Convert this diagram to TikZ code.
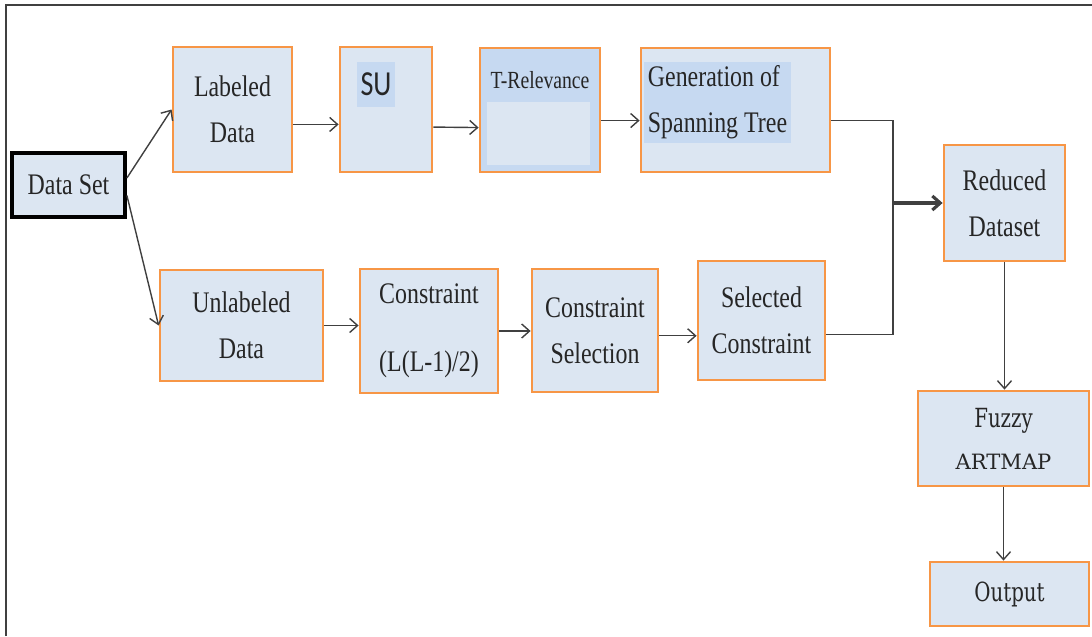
\documentclass[tikz,border=0pt]{standalone}
\usepackage{fontspec}
\setmainfont{Liberation Serif}[FakeStretch=0.8]
\newfontfamily\sufont{Carlito}[FakeStretch=0.8]
\newfontfamily\slabfont{DejaVu Serif}[FakeStretch=0.75]
\newfontfamily\slabwide{DejaVu Serif}
\usetikzlibrary{arrows.meta,positioning}
\definecolor{boxfill}{HTML}{DCE6F2}
\definecolor{boxline}{HTML}{F79646}
\definecolor{hilite}{HTML}{C6D9F1}
\definecolor{wire}{HTML}{404040}

\begin{document}
\begin{tikzpicture}[x=0.02cm, y=-0.02cm,
      blk/.style={rectangle, draw=boxline, fill=boxfill, line width=1.6pt,
                  align=center, text=black!85, inner sep=2pt,
                  font=\fontsize{17}{26}\selectfont},
      hl/.style={fill=hilite, inner sep=2pt, text=black!85},
      edge/.style={-{Straight Barb[length=4.5pt,width=8pt]}, wire, line width=0.8pt},
      link/.style={wire, line width=0.8pt},
      frame/.style={black!75, line width=1.2pt}
    ]
      \useasboundingbox (0,0) rectangle (1092,636);
      \draw[frame] (6,636) -- (6,5) -- (1092,5);

      % Input
      \node[blk, draw=black, line width=2.2pt, minimum width=2.26cm, minimum height=1.28cm] (data) at (68.5,185) {Data Set};

      % Labeled branch
      \node[blk, minimum width=2.38cm, minimum height=2.5cm] (lab) at (232.5,109.5) {Labeled\\Data};
      \node[blk, minimum width=1.84cm, minimum height=2.5cm] (su) at (386,109.5) {};
      \node[hl, font=\sufont\fontsize{20}{22}\selectfont, minimum width=0.76cm, minimum height=0.9cm, inner sep=0pt] (su-t) at (376,84.5) {SU};
      \node[blk, fill=hilite, minimum width=2.4cm, minimum height=2.48cm] (trel) at (540,110) {};
      \node[fill=boxfill, minimum width=2.06cm, minimum height=1.26cm, inner sep=0pt] (trel-in) at (538.5,133.5) {};
      \node[text=black!85, font=\fontsize{14}{16}\selectfont] (trel-t) at (540,80) {T-Relevance};
      \node[blk, minimum width=3.78cm, minimum height=2.48cm] (gen) at (735.5,110) {};
      \node[hl, align=left, font=\fontsize{17}{26}\selectfont, minimum width=2.9cm, minimum height=1.58cm] (gen-t) at (717.5,102.5) {Generation of\\Spanning Tree};

      % Unlabeled branch
      \node[blk, minimum width=3.26cm, minimum height=2.22cm] (unl) at (241.5,325.5) {Unlabeled\\Data};
      \node[blk, minimum width=2.76cm, minimum height=2.48cm] (con) at (429,331) {Constraint\\[13pt](L(L-1)/2)};
      \node[blk, minimum width=2.52cm, minimum height=2.46cm] (csel) at (595,330.5) {Constraint\\Selection};
      \node[blk, minimum width=2.54cm, minimum height=2.38cm] (scon) at (761.5,320.5) {Selected\\Constraint};

      % Output column
      \node[blk, minimum width=2.42cm, minimum height=2.32cm] (red) at (1004.5,203) {Reduced\\Dataset};
      \node[blk, font=\slabfont\fontsize{15}{24}\selectfont, minimum width=3.42cm, minimum height=1.9cm] (fuz) at (1003.5,438.5) {Fuzzy\\{\slabwide\fontsize{12}{24}\selectfont ARTMAP}};
      \node[blk, font=\slabfont\fontsize{15}{18}\selectfont, minimum width=3.18cm, minimum height=1.28cm] (out) at (1009.5,594) {Output};
      \coordinate (mrg) at (893,203);

      % Edges
      \draw[edge] ([yshift=4pt]data.east) -- (lab.west);
      \draw[edge] ([yshift=-6pt]data.east) -- (unl.west);
      \draw[edge] ([yshift=-8.5pt]lab.east) -- ([yshift=-8.5pt]su.west);
      \draw[edge] ([yshift=-10pt]su.east) -- ([yshift=-10pt]trel.west);
      \draw[edge] ([yshift=-6pt]trel.east) -- ([yshift=-6pt]gen.west);
      \draw[edge] (unl.east) -- (unl.east -| con.west);
      \draw[edge] (con.east) -- (con.east -| csel.west);
      \draw[edge] ([yshift=-3pt]csel.east) -- ([yshift=-3pt]csel.east -| scon.west);
      \draw[link] ([yshift=-6pt]gen.east) -| (mrg);
      \draw[link] ([yshift=-8pt]scon.east) -| (mrg);
      \draw[edge, line width=1.8pt] (mrg) -- (red.west);
      \draw[edge] (red.south) -- (red.south |- fuz.north);
      \draw[edge] (fuz.south) -- (fuz.south |- out.north);
    \end{tikzpicture}
\end{document}
